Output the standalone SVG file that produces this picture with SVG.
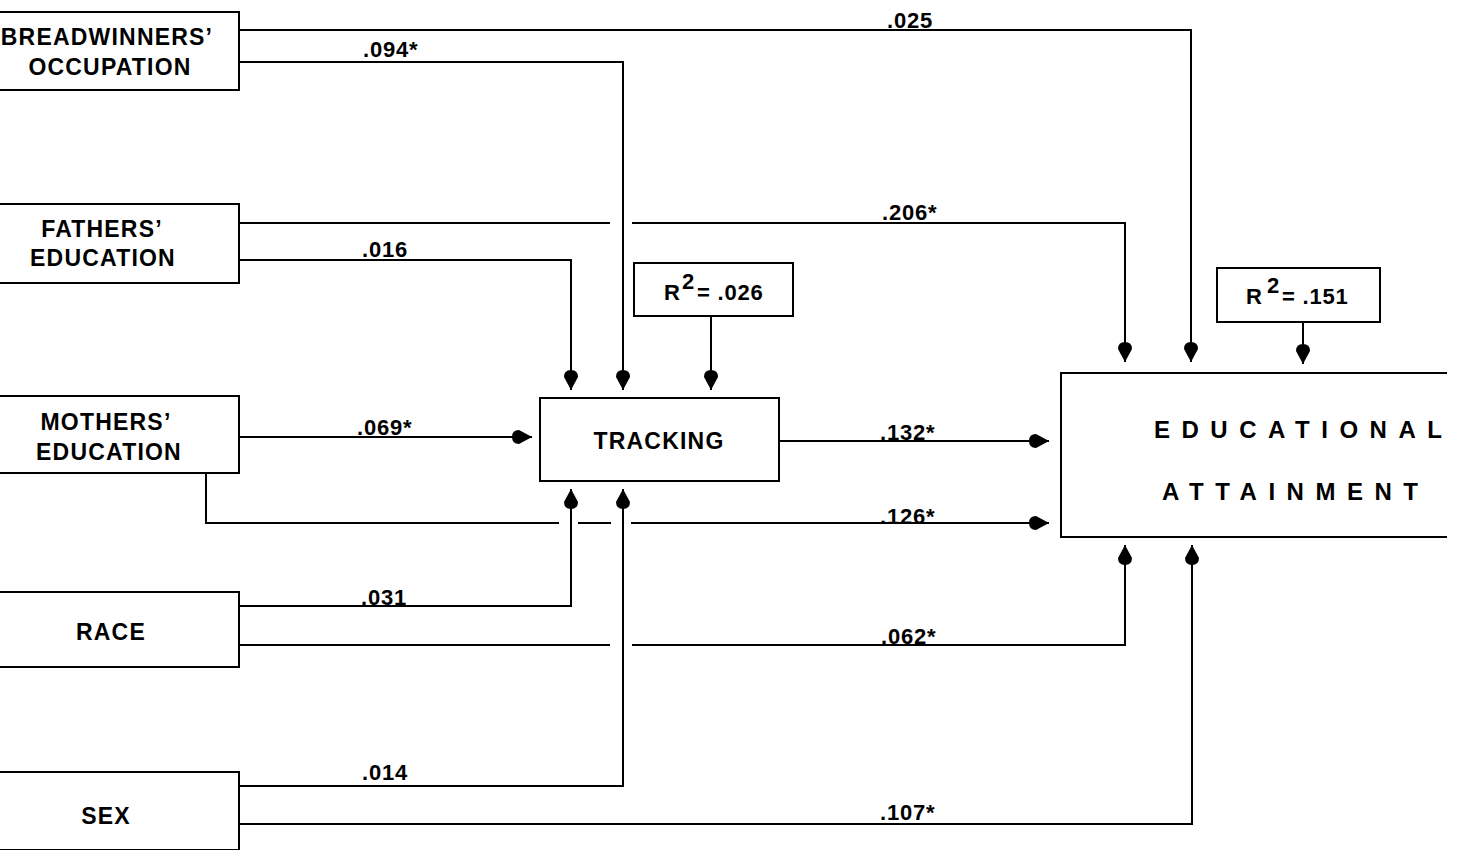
<svg xmlns="http://www.w3.org/2000/svg" width="1460" height="850" viewBox="0 0 1460 850">
<style>
.box{fill:none;stroke:#000;stroke-width:2}
.ln{fill:none;stroke:#000;stroke-width:2}
.lbl{font-family:"Liberation Sans",Arial,sans-serif;font-weight:bold;font-size:22px;fill:#000;letter-spacing:0.8px}
.nm{font-family:"Liberation Sans",Arial,sans-serif;font-weight:bold;font-size:23px;fill:#000;text-anchor:middle;letter-spacing:1.2px}
.big{font-family:"Liberation Sans",Arial,sans-serif;font-weight:bold;font-size:24px;fill:#000;letter-spacing:11.5px}
</style>
<defs>
<marker id="ah" markerUnits="userSpaceOnUse" viewBox="0 0 20 14" refX="20" refY="7" markerWidth="20" markerHeight="14" orient="auto">
<path d="M20,7 L7,0 Q0,0 0,7 Q0,14 7,14 Z" fill="#000"/>
</marker>
</defs>
<rect width="1460" height="850" fill="#fff"/>

<g id="breadwinners">
<path class="box" d="M0,12 H239 V90 H0"/>
<text class="nm" x="107" y="45">BREADWINNERS’</text>
<text class="nm" x="110" y="75">OCCUPATION</text>
</g>
<g id="fathers">
<path class="box" d="M0,204 H239 V283 H0"/>
<text class="nm" x="102" y="237">FATHERS’</text>
<text class="nm" x="103" y="266">EDUCATION</text>
</g>
<g id="mothers">
<path class="box" d="M0,396 H239 V473 H0"/>
<text class="nm" x="106" y="430">MOTHERS’</text>
<text class="nm" x="109" y="460">EDUCATION</text>
</g>
<g id="race">
<path class="box" d="M0,592 H239 V667 H0"/>
<text class="nm" x="111" y="640">RACE</text>
</g>
<g id="sex">
<path class="box" d="M0,772 H239 V850 H0"/>
<text class="nm" x="106" y="824">SEX</text>
</g>
<g id="tracking">
<rect class="box" x="540" y="398" width="239" height="83"/>
<text class="nm" x="659" y="449">TRACKING</text>
</g>
<g id="r2-tracking">
<rect class="box" x="634" y="263" width="159" height="53"/>
<text class="lbl" x="664" y="300">R</text>
<text class="lbl" x="682" y="289" font-size="17">2</text>
<text class="lbl" x="697" y="300">= .026</text>
</g>
<g id="attainment">
<path class="box" d="M1447,373 H1061 V537 H1447"/>
<text class="big" x="1154" y="438">EDUCATIONAL</text>
<text class="big" x="1162" y="500">ATTAINMENT</text>
</g>
<g id="r2-attainment">
<rect class="box" x="1217" y="268" width="163" height="54"/>
<text class="lbl" x="1246" y="304">R</text>
<text class="lbl" x="1267" y="293" font-size="17">2</text>
<text class="lbl" x="1282" y="304">= .151</text>
</g>

<g id="connectors">
<path class="ln" d="M239,30 H1191 V362" marker-end="url(#ah)"/>
<path class="ln" d="M239,62 H623 V390" marker-end="url(#ah)"/>
<path class="ln" d="M239,223 H610"/>
<path class="ln" d="M632,223 H1125 V362" marker-end="url(#ah)"/>
<path class="ln" d="M239,260 H571 V390" marker-end="url(#ah)"/>
<path class="ln" d="M711,316 V390" marker-end="url(#ah)"/>
<path class="ln" d="M239,437 H532" marker-end="url(#ah)"/>
<path class="ln" d="M206,473 V523 H559"/>
<path class="ln" d="M578,523 H611"/>
<path class="ln" d="M631,523 H1049" marker-end="url(#ah)"/>
<path class="ln" d="M779,441 H1049" marker-end="url(#ah)"/>
<path class="ln" d="M1303,322 V364" marker-end="url(#ah)"/>
<path class="ln" d="M239,606 H571 V489" marker-end="url(#ah)"/>
<path class="ln" d="M239,645 H610"/>
<path class="ln" d="M632,645 H1125 V545" marker-end="url(#ah)"/>
<path class="ln" d="M239,786 H623 V489" marker-end="url(#ah)"/>
<path class="ln" d="M239,824 H1192 V545" marker-end="url(#ah)"/>
</g>
<g id="labels">
<text class="lbl" x="887" y="28">.025</text>
<text class="lbl" x="363" y="57">.094*</text>
<text class="lbl" x="882" y="220">.206*</text>
<text class="lbl" x="362" y="257">.016</text>
<text class="lbl" x="357" y="435">.069*</text>
<text class="lbl" x="880" y="440">.132*</text>
<text class="lbl" x="880" y="524">.126*</text>
<text class="lbl" x="361" y="605">.031</text>
<text class="lbl" x="881" y="644">.062*</text>
<text class="lbl" x="362" y="780">.014</text>
<text class="lbl" x="880" y="820">.107*</text>
</g>
</svg>
